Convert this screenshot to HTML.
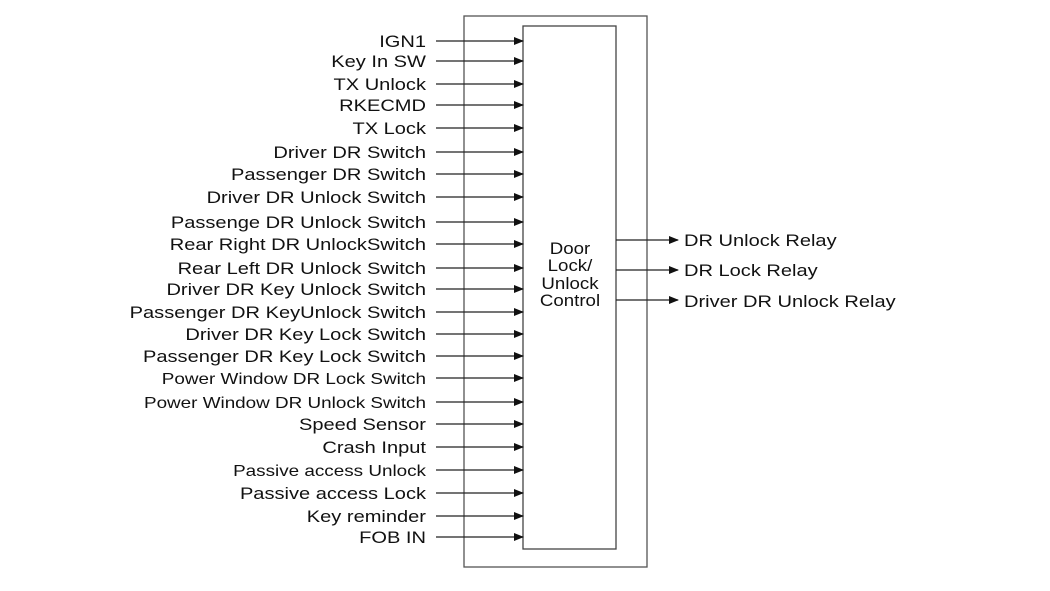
<!DOCTYPE html>
<html><head><style>
body{margin:0;background:#fff;}
svg text{font-family:"Liberation Sans",sans-serif;font-size:17px;fill:#111;}
</style></head><body>
<svg width="1050" height="586" xmlns="http://www.w3.org/2000/svg">
<defs><marker id="a" markerWidth="10" markerHeight="8" refX="9" refY="4" orient="auto" markerUnits="userSpaceOnUse"><path d="M0,0 L10,4 L0,8z" fill="#111"/></marker></defs>
<rect x="464" y="16" width="183" height="551" fill="none" stroke="#555" stroke-width="1.3"/>
<rect x="523" y="26" width="93" height="523" fill="none" stroke="#444" stroke-width="1.3"/>
<g text-anchor="end" transform="translate(426,0) scale(1.18,1) translate(-426,0)">
<text x="426" y="47">IGN1</text>
<text x="426" y="67">Key In SW</text>
<text x="426" y="90">TX Unlock</text>
<text x="426" y="111">RKECMD</text>
<text x="426" y="134">TX Lock</text>
<text x="426" y="158">Driver DR Switch</text>
<text x="426" y="180">Passenger DR Switch</text>
<text x="426" y="203">Driver DR Unlock Switch</text>
<text x="426" y="228">Passenge DR Unlock Switch</text>
<text x="426" y="250">Rear Right DR UnlockSwitch</text>
<text x="426" y="274">Rear Left DR Unlock Switch</text>
<text x="426" y="295">Driver DR Key Unlock Switch</text>
<text x="426" y="318">Passenger DR KeyUnlock Switch</text>
<text x="426" y="340">Driver DR Key Lock Switch</text>
<text x="426" y="362">Passenger DR Key Lock Switch</text>
<text x="426" y="384" style="font-size:16px">Power Window DR Lock Switch</text>
<text x="426" y="408" style="font-size:16px">Power Window DR Unlock Switch</text>
<text x="426" y="430">Speed Sensor</text>
<text x="426" y="453">Crash Input</text>
<text x="426" y="476" style="font-size:16px">Passive access Unlock</text>
<text x="426" y="499">Passive access Lock</text>
<text x="426" y="522">Key reminder</text>
<text x="426" y="543">FOB IN</text>
</g>
<g stroke="#222" stroke-width="1.3" marker-end="url(#a)">
<line x1="436" y1="41" x2="523" y2="41"/><line x1="436" y1="61" x2="523" y2="61"/>
<line x1="436" y1="84" x2="523" y2="84"/><line x1="436" y1="105" x2="523" y2="105"/>
<line x1="436" y1="128" x2="523" y2="128"/><line x1="436" y1="152" x2="523" y2="152"/>
<line x1="436" y1="174" x2="523" y2="174"/><line x1="436" y1="197" x2="523" y2="197"/>
<line x1="436" y1="222" x2="523" y2="222"/><line x1="436" y1="244" x2="523" y2="244"/>
<line x1="436" y1="268" x2="523" y2="268"/><line x1="436" y1="289" x2="523" y2="289"/>
<line x1="436" y1="312" x2="523" y2="312"/><line x1="436" y1="334" x2="523" y2="334"/>
<line x1="436" y1="356" x2="523" y2="356"/><line x1="436" y1="378" x2="523" y2="378"/>
<line x1="436" y1="402" x2="523" y2="402"/><line x1="436" y1="424" x2="523" y2="424"/>
<line x1="436" y1="447" x2="523" y2="447"/><line x1="436" y1="470" x2="523" y2="470"/>
<line x1="436" y1="493" x2="523" y2="493"/><line x1="436" y1="516" x2="523" y2="516"/>
<line x1="436" y1="537" x2="523" y2="537"/>
<line x1="616" y1="240" x2="678" y2="240"/><line x1="616" y1="270" x2="678" y2="270"/>
<line x1="616" y1="300" x2="678" y2="300"/>
</g>
<g text-anchor="middle" transform="translate(570,0) scale(1.1,1) translate(-570,0)">
<text x="570" y="254">Door</text><text x="570" y="271">Lock/</text>
<text x="570" y="289">Unlock</text><text x="570" y="306">Control</text>
</g>
<g transform="translate(684,0) scale(1.18,1) translate(-684,0)">
<text x="684" y="246">DR Unlock Relay</text>
<text x="684" y="276">DR Lock Relay</text>
<text x="684" y="307">Driver DR Unlock Relay</text>
</g>
</svg>
</body></html>
